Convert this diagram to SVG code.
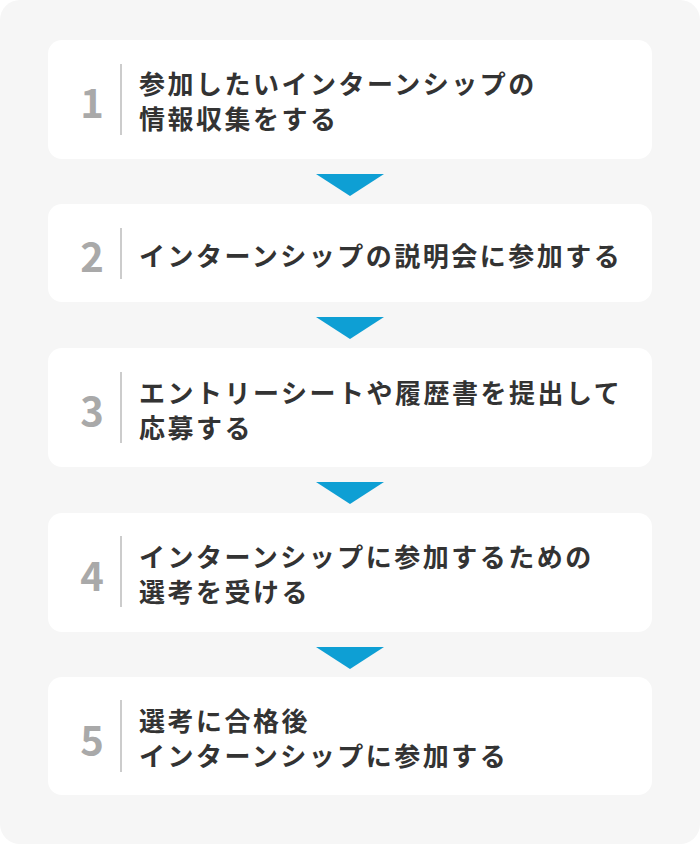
<svg xmlns="http://www.w3.org/2000/svg" width="700" height="844" viewBox="0 0 700 844">
  <style>
    .card { fill: #ffffff; }
    .num { font-family: "Noto Sans CJK JP", "Noto Sans", sans-serif; font-weight: 700; font-size: 40px; fill: #a9a9a9; text-anchor: middle; }
    .div { stroke: #cccccc; stroke-width: 2; }
    .txt { font-family: "Noto Sans CJK JP", "Noto Sans", sans-serif; font-weight: 700; font-size: 26px; letter-spacing: 2.5px; fill: #333333; }
    .arrow { fill: #0e9fd4; }
  </style>
  <rect x="0" y="0" width="700" height="844" fill="#ffffff"/>
  <rect x="0" y="0" width="700" height="844" rx="20" fill="#f6f6f6"/>

  <g id="connectors">
    <polygon class="arrow" points="316,174 384,174 350,196"/>
    <polygon class="arrow" points="316,317 384,317 350,339"/>
    <polygon class="arrow" points="316,482 384,482 350,504"/>
    <polygon class="arrow" points="316,647 384,647 350,669"/>
  </g>

  <g id="step1">
    <rect class="card" x="48" y="40" width="604" height="119" rx="14"/>
    <text class="num" x="92" y="118">1</text>
    <line class="div" x1="121" y1="64" x2="121" y2="135"/>
    <text class="txt" x="139" y="94">参加したいインターンシップの</text>
    <text class="txt" x="139" y="129">情報収集をする</text>
  </g>

  <g id="step2">
    <rect class="card" x="48" y="204" width="604" height="98" rx="14"/>
    <text class="num" x="92" y="272">2</text>
    <line class="div" x1="121" y1="228" x2="121" y2="279"/>
    <text class="txt" x="139" y="266">インターンシップの説明会に参加する</text>
  </g>

  <g id="step3">
    <rect class="card" x="48" y="348" width="604" height="119" rx="14"/>
    <text class="num" x="92" y="426">3</text>
    <line class="div" x1="121" y1="372" x2="121" y2="443"/>
    <text class="txt" x="139" y="403">エントリーシートや履歴書を提出して</text>
    <text class="txt" x="139" y="438">応募する</text>
  </g>

  <g id="step4">
    <rect class="card" x="48" y="513" width="604" height="119" rx="14"/>
    <text class="num" x="92" y="591">4</text>
    <line class="div" x1="121" y1="536" x2="121" y2="607"/>
    <text class="txt" x="139" y="567">インターンシップに参加するための</text>
    <text class="txt" x="139" y="602">選考を受ける</text>
  </g>

  <g id="step5">
    <rect class="card" x="48" y="677" width="604" height="118" rx="14"/>
    <text class="num" x="92" y="755">5</text>
    <line class="div" x1="121" y1="700" x2="121" y2="772"/>
    <text class="txt" x="139" y="731">選考に合格後</text>
    <text class="txt" x="139" y="766">インターンシップに参加する</text>
  </g>
</svg>
